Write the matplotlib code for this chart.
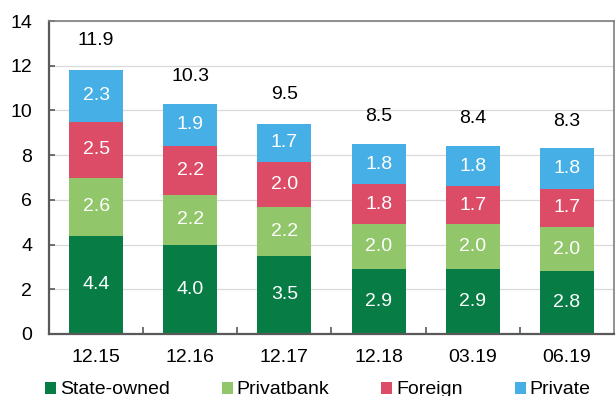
import matplotlib.pyplot as plt
from matplotlib.patches import Patch
import numpy as np

plt.rcParams["font.family"] = ["Liberation Sans", "DejaVu Sans"]

periods = ["12.15", "12.16", "12.17", "12.18", "03.19", "06.19"]
state_owned = [4.4, 4.0, 3.5, 2.9, 2.9, 2.8]
privatbank = [2.6, 2.2, 2.2, 2.0, 2.0, 2.0]
foreign = [2.5, 2.2, 2.0, 1.8, 1.7, 1.7]
private = [2.3, 1.9, 1.7, 1.8, 1.8, 1.8]
totals = [11.9, 10.3, 9.5, 8.5, 8.4, 8.3]

series = [
    ("State-owned", state_owned, "#077D45"),
    ("Privatbank", privatbank, "#92C66A"),
    ("Foreign", foreign, "#DC4C66"),
    ("Private", private, "#46AFE6"),
]

FS = 14

fig = plt.figure(figsize=(6.16, 3.96), dpi=100)
ax = fig.add_axes([49 / 616, 62 / 396, 565 / 616, 313 / 396])

x = np.arange(len(periods))
bottom = np.zeros(len(periods))
for name, vals, color in series:
    vals = np.array(vals)
    ax.bar(x, vals, 0.573, bottom=bottom, color=color, zorder=2)
    for xi, b, v in zip(x, bottom, vals):
        ax.text(xi, b + v / 2, f"{v:.1f}", ha="center", va="center",
                color="white", fontsize=FS, zorder=3)
    bottom += vals

for xi, t in zip(x, totals):
    ax.text(xi, t + 1.22, f"{t:.1f}", ha="center", va="center",
            color="black", fontsize=FS)

ax.set_xlim(-0.5, len(periods) - 0.5)
ax.set_ylim(0, 14)
ax.set_yticks(range(0, 15, 2))
ax.set_xticks(x)
ax.set_xticklabels(periods)
ax.set_xticks(x[:-1] + 0.5, minor=True)
ax.yaxis.grid(True, color="#D9D9D9", linewidth=0.9, zorder=0)
ax.set_axisbelow(True)

ax.tick_params(axis="y", length=4, direction="in", color="#595959", width=1.2,
               pad=12, labelsize=FS)
ax.tick_params(axis="x", which="major", length=0, pad=11, labelsize=FS)
ax.tick_params(axis="x", which="minor", length=5, direction="in",
               color="#595959", width=1.2)

for side in ("left", "bottom"):
    ax.spines[side].set_color("#595959")
    ax.spines[side].set_linewidth(1.6)
for side in ("top", "right"):
    ax.spines[side].set_color("#7F7F7F")
    ax.spines[side].set_linewidth(1.2)

handles = [Patch(facecolor=c, edgecolor="none", label=n) for n, _, c in series]
fig.legend(handles=handles, loc="center left", bbox_to_anchor=(45 / 616, 6 / 396),
           ncol=4, frameon=False, fontsize=FS, handlelength=0.56, handleheight=0.56,
           handletextpad=0.2, columnspacing=2.68, borderpad=0, borderaxespad=0)

fig.savefig("out.png", dpi=100, facecolor="white")
